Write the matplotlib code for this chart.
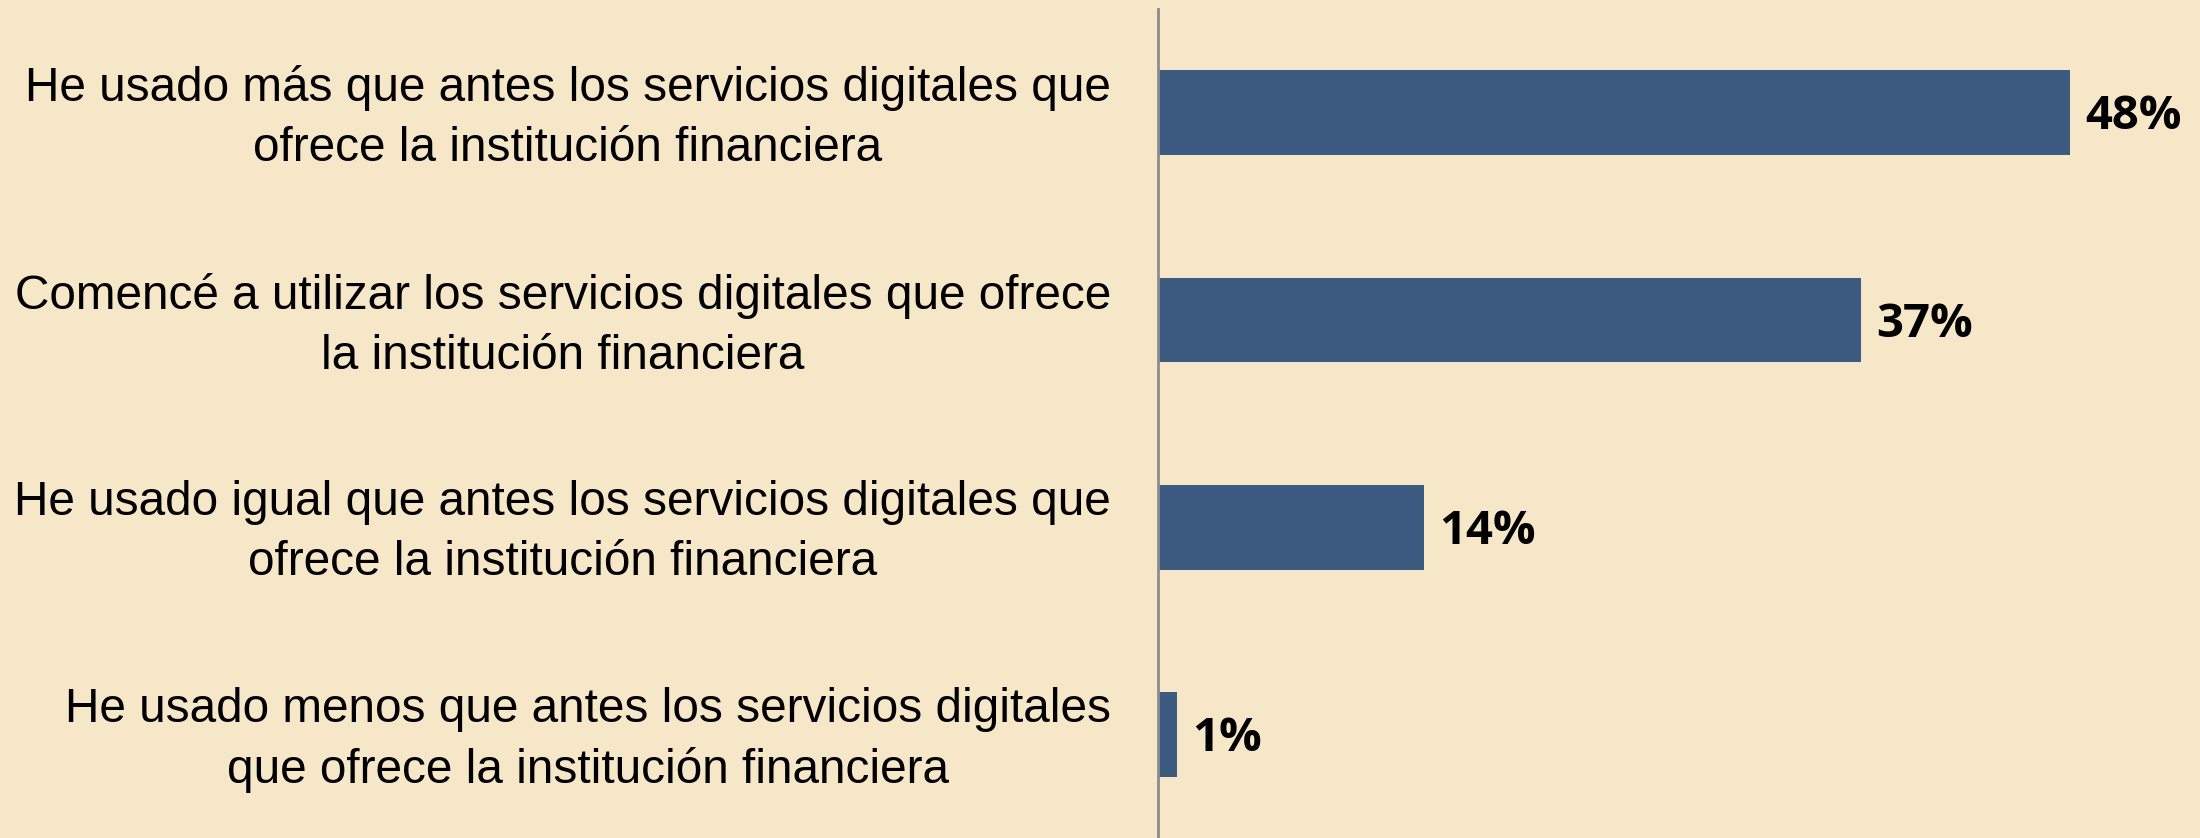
import matplotlib
matplotlib.use("Agg")
import matplotlib.pyplot as plt
from matplotlib.transforms import ScaledTranslation

categories = [
    "He usado más que antes los servicios digitales que\nofrece la institución financiera",
    "Comencé a utilizar los servicios digitales que ofrece\nla institución financiera",
    "He usado igual que antes los servicios digitales que\nofrece la institución financiera",
    "He usado menos que antes los servicios digitales\nque ofrece la institución financiera",
]
values = [48, 37, 14, 1]
value_labels = ["48%", "37%", "14%", "1%"]

bg = "#F7E7C9"
bar_color = "#3D5A80"

fig = plt.figure(figsize=(22, 8.38), dpi=100, facecolor=bg)
ax = fig.add_axes([0.5264, 0.0, 0.4736, 0.989])
ax.set_facecolor(bg)

ypos = list(range(len(values)))
ax.barh(ypos, values, height=0.41, color=bar_color)
ax.set_ylim(3.5, -0.5)
ax.set_xlim(0, 54.85)

for y, v, lab in zip(ypos, values, value_labels):
    ax.annotate(lab, (v, y), xytext=(11, -3), textcoords="offset points",
                va="center", ha="left", fontsize=34, fontweight="bold",
                family="Open Sans", color="black")

ax.set_yticks(ypos)
ax.set_yticklabels(categories, fontsize=34.4, family="Liberation Sans",
                   ha="right", multialignment="center", linespacing=1.43)
ax.tick_params(axis="y", length=0, pad=34)
# nudge the category labels up a little
shift = ScaledTranslation(0, 5 / 72, fig.dpi_scale_trans)
for lbl in ax.get_yticklabels():
    lbl.set_transform(lbl.get_transform() + shift)
ax.set_xticks([])

for s in ["top", "right", "bottom"]:
    ax.spines[s].set_visible(False)
ax.spines["left"].set_color("#8C8C8C")
ax.spines["left"].set_linewidth(2)

fig.savefig("out.png", dpi=100, facecolor=bg)
